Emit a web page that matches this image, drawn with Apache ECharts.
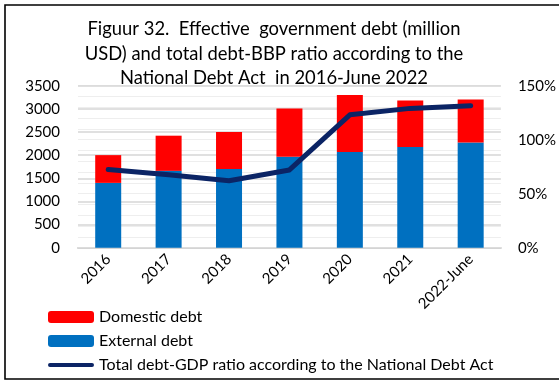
<!DOCTYPE html>
<html>
<head>
<meta charset="utf-8">
<script src="https://cdn.jsdelivr.net/npm/echarts@6/dist/echarts.min.js"></script>
<style>
  html, body { margin: 0; padding: 0; background: #fff; }
  #chart { width: 559px; height: 382px; }
</style>
</head>
<body>
<div id="chart"></div>
<script>
// Government debt by year (million USD) and debt-to-GDP ratio (%)
const years = ['2016', '2017', '2018', '2019', '2020', '2021', '2022-June'];
const externalDebt = [1400, 1660, 1700, 1965, 2070, 2175, 2275];
const domesticDebt = [600, 760, 800, 1045, 1230, 1005, 925];
const debtRatio = [72.5, 67.5, 62, 72, 123, 129, 131.5];
const leftTicks = { min: 0, max: 3500, interval: 500 };
const rightTicks = { min: 0, max: 150, interval: 50 };

const FONT = 'Lato';
const NAVY = '#0B2465';
// thick rounded stroke used as the legend key of the ratio line
const lineKey = 'path://M0,0 L0.01,0 L0,0.01 Z M2,4 L44,4 A2,2 0 0 1 44,8 L2,8 A2,2 0 0 1 2,4 Z M46,12 L45.99,12 L46,11.99 Z';

const chart = echarts.init(document.getElementById('chart'), null, { renderer: 'canvas' });

chart.setOption({
  backgroundColor: '#ffffff',
  animation: false,
  textStyle: { fontFamily: FONT },
  title: {
    text: 'Figuur 32.  Effective  government debt (million\nUSD) and total debt-BBP ratio according to the\nNational Debt Act  in 2016-June 2022',
    left: 269,
    top: 12,
    textAlign: 'center',
    textStyle: { fontFamily: FONT, fontSize: 18.4, fontWeight: 'normal', color: '#000', lineHeight: 24.5 }
  },
  graphic: [{
    type: 'rect',
    shape: { x: 5, y: 5, width: 570, height: 374 },
    style: { fill: 'none', stroke: '#000', lineWidth: 1.6 },
    silent: true,
    z: 100
  }],
  legend: {
    orient: 'vertical',
    left: 48,
    top: 309,
    padding: 0,
    height: 80,
    itemWidth: 46,
    itemHeight: 12,
    itemGap: 8,
    textStyle: { fontFamily: FONT, fontSize: 16, color: '#000' },
    data: [
      { name: 'Domestic debt' },
      { name: 'External debt' },
      { name: 'Total debt-GDP ratio according to the National Debt Act', icon: lineKey }
    ]
  },
  grid: { left: 78, right: 56, top: 85.7, bottom: 134.3, containLabel: false },
  xAxis: {
    type: 'category',
    data: years,
    axisLine: { show: true, lineStyle: { color: '#d0d0d0', width: 2 } },
    axisTick: { show: false },
    axisLabel: { rotate: 45, margin: 9, fontFamily: FONT, fontSize: 15, color: '#000', interval: 0 }
  },
  yAxis: [{
    type: 'value',
    min: leftTicks.min, max: leftTicks.max, interval: leftTicks.interval,
    axisLine: { show: false },
    axisTick: { show: false },
    axisLabel: { margin: 18, fontFamily: FONT, fontSize: 15, color: '#000', formatter: function (v) { return String(v); } },
    splitLine: { show: true, lineStyle: { color: '#d6d6d6', width: 1.6 } },
    z: 3
  }, {
    type: 'value',
    position: 'right',
    min: rightTicks.min, max: rightTicks.max, interval: rightTicks.interval,
    axisLine: { show: false },
    axisTick: { show: false },
    axisLabel: { margin: 17, fontFamily: FONT, fontSize: 15, color: '#000', formatter: '{value}%' },
    splitLine: { show: true, lineStyle: { color: '#eeeeee', width: 1 } },
    minorTick: { show: false, splitNumber: 5 },
    minorSplitLine: { show: true, lineStyle: { color: '#eeeeee', width: 1 } },
    z: 2
  }],
  series: [{
    name: 'External debt',
    type: 'bar',
    stack: 'debt',
    barWidth: 26,
    itemStyle: { color: '#0070C0' },
    data: externalDebt,
    z: 4
  }, {
    name: 'Domestic debt',
    type: 'bar',
    stack: 'debt',
    barWidth: 26,
    itemStyle: { color: '#FF0000' },
    data: domesticDebt,
    z: 4
  }, {
    name: 'Total debt-GDP ratio according to the National Debt Act',
    type: 'line',
    yAxisIndex: 1,
    data: debtRatio,
    symbol: 'none',
    showSymbol: false,
    lineStyle: { color: NAVY, width: 5, cap: 'round', join: 'round' },
    itemStyle: { color: NAVY },
    z: 5
  }]
});
</script>
</body>
</html>
